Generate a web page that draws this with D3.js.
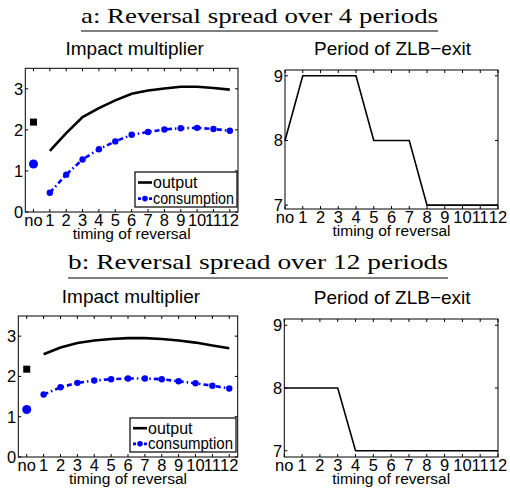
<!DOCTYPE html>
<html>
<head>
<meta charset="utf-8">
<script src="https://cdn.jsdelivr.net/npm/d3@7"></script>
<style>
  body { margin: 0; background: #fff; }
</style>
</head>
<body>
<div id="plot"></div>
<script>
// x categories: "no" reversal, then timing 1..12
var timing = [1, 2, 3, 4, 5, 6, 7, 8, 9, 10, 11, 12];
var xTickLabels = ["no", "1", "2", "3", "4", "5", "6", "7", "8", "9", "10", "11", "12"];

// panel a: reversal spread over 4 periods
var outputA = [1.49, 1.92, 2.31, 2.53, 2.72, 2.88, 2.96, 3.01, 3.05, 3.05, 3.02, 2.98];
var consA = [0.47, 0.91, 1.28, 1.53, 1.72, 1.88, 1.95, 2.01, 2.04, 2.05, 2.02, 1.98];
var noOutputA = 2.19;
var noConsA = 1.17;
var exitA = [8, 9, 9, 9, 9, 8, 8, 8, 7, 7, 7, 7, 7];

// panel b: reversal spread over 12 periods
var outputB = [2.55, 2.72, 2.83, 2.89, 2.93, 2.95, 2.95, 2.93, 2.89, 2.84, 2.77, 2.70];
var consB = [1.55, 1.73, 1.84, 1.90, 1.93, 1.95, 1.95, 1.93, 1.88, 1.83, 1.77, 1.70];
var noOutputB = 2.18;
var noConsB = 1.18;
var exitB = [8, 8, 8, 8, 7, 7, 7, 7, 7, 7, 7, 7, 7];

var width = 510, height = 489;
var sans = "'Liberation Sans', Arial, Helvetica, sans-serif";
var svg = d3.select("#plot").append("svg")
    .attr("width", width)
    .attr("height", height)
    .style("font-family", sans);

// section heading with underline
function heading(txt, x0, x1, y, lineY) {
    svg.append("text")
        .attr("x", x0).attr("y", y)
        .style("font-family", "'Liberation Serif', 'DejaVu Serif', serif")
        .style("font-size", "22px")
        .attr("textLength", x1 - x0)
        .attr("lengthAdjust", "spacingAndGlyphs")
        .text(txt);
    svg.append("line")
        .attr("x1", x0).attr("x2", x1)
        .attr("y1", lineY).attr("y2", lineY)
        .attr("stroke", "black").attr("stroke-width", 1);
}

// matlab-like box with inward ticks on all four sides
function box(g, x, y, xt, yt) {
    var x0 = x.range()[0], x1 = x.range()[1], y0 = y.range()[0], y1 = y.range()[1];
    g.append("rect")
        .attr("x", x0).attr("y", y1)
        .attr("width", x1 - x0).attr("height", y0 - y1)
        .attr("fill", "none").attr("stroke", "black").attr("stroke-width", 1);
    var tl = 3;
    xt.forEach(function(v, i) {
        var px = x(i);
        g.append("line").attr("x1", px).attr("x2", px).attr("y1", y0).attr("y2", y0 - tl).attr("stroke", "black");
        g.append("line").attr("x1", px).attr("x2", px).attr("y1", y1).attr("y2", y1 + tl).attr("stroke", "black");
        g.append("text")
            .attr("x", px).attr("y", y0 + 13.5)
            .attr("text-anchor", "middle")
            .style("font-size", "16.5px")
            .text(v);
    });
    yt.forEach(function(v) {
        var py = y(v);
        g.append("line").attr("x1", x0).attr("x2", x0 + tl).attr("y1", py).attr("y2", py).attr("stroke", "black");
        g.append("line").attr("x1", x1).attr("x2", x1 - tl).attr("y1", py).attr("y2", py).attr("stroke", "black");
        g.append("text")
            .attr("x", x0 - 2).attr("y", py + 6)
            .attr("text-anchor", "end")
            .style("font-size", "16.5px")
            .text(v);
    });
    g.append("text")
        .attr("x", (x0 + x1) / 2).attr("y", y0 + 27)
        .attr("text-anchor", "middle")
        .style("font-size", "15.5px")
        .text("timing of reversal");
}

function multiplierPanel(left, right, top, bottom, output, cons, noOut, noCons, leg) {
    var g = svg.append("g");
    var x = d3.scaleLinear().domain([-0.5, 12.5]).range([left, right]);
    var y = d3.scaleLinear().domain([0, 3.5]).range([bottom, top]);

    g.append("text")
        .attr("x", (left + right) / 2 + 3).attr("y", top - 13)
        .attr("text-anchor", "middle")
        .style("font-size", "19px")
        .text("Impact multiplier");

    box(g, x, y, xTickLabels, [0, 1, 2, 3]);

    var line = d3.line().x(function(d, i) { return x(timing[i]); }).y(function(d) { return y(d); });

    g.append("path").datum(output)
        .attr("d", line)
        .attr("fill", "none").attr("stroke", "black").attr("stroke-width", 2.6);

    g.append("path").datum(cons)
        .attr("d", line)
        .attr("fill", "none").attr("stroke", "#0000ff").attr("stroke-width", 2.6)
        .attr("stroke-dasharray", "5,3,1.5,3");

    g.selectAll(".cdot").data(cons).enter().append("circle")
        .attr("cx", function(d, i) { return x(timing[i]); })
        .attr("cy", function(d) { return y(d); })
        .attr("r", 3.2).attr("fill", "#0000ff");

    // no-reversal markers
    g.append("rect")
        .attr("x", x(0) - 3.5).attr("y", y(noOut) - 3.5)
        .attr("width", 7).attr("height", 7).attr("fill", "black");
    g.append("circle")
        .attr("cx", x(0)).attr("cy", y(noCons))
        .attr("r", 4.5).attr("fill", "#0000ff");

    // legend
    var lg = g.append("g");
    lg.append("rect")
        .attr("x", leg.x).attr("y", leg.y)
        .attr("width", leg.w).attr("height", leg.h)
        .attr("fill", "white").attr("stroke", "black").attr("stroke-width", 1.2);
    var r1 = leg.y + leg.h * 0.3, r2 = leg.y + leg.h * 0.76;
    lg.append("line").attr("x1", leg.x + 3).attr("x2", leg.x + 17).attr("y1", r1).attr("y2", r1)
        .attr("stroke", "black").attr("stroke-width", 2.6);
    lg.append("line").attr("x1", leg.x + 3).attr("x2", leg.x + 17).attr("y1", r2).attr("y2", r2)
        .attr("stroke", "#0000ff").attr("stroke-width", 2.6).attr("stroke-dasharray", "3,2.5");
    lg.append("circle").attr("cx", leg.x + 10).attr("cy", r2).attr("r", 2.8).attr("fill", "#0000ff");
    lg.append("text").attr("x", leg.x + 18).attr("y", r1 + 5.5).style("font-size", "16px").text("output");
    lg.append("text").attr("x", leg.x + 18).attr("y", r2 + 5.5).style("font-size", "16px")
        .attr("textLength", leg.w - 21).attr("lengthAdjust", "spacingAndGlyphs")
        .text("consumption");
}

function exitPanel(left, right, top, bottom, yDom, exit) {
    var g = svg.append("g");
    var x = d3.scaleLinear().domain([0, 12]).range([left, right]);
    var y = d3.scaleLinear().domain(yDom).range([bottom, top]);

    g.append("text")
        .attr("x", (left + right) / 2 + 1).attr("y", top - 15)
        .attr("text-anchor", "middle")
        .style("font-size", "19px")
        .text("Period of ZLB\u2212exit");

    box(g, x, y, xTickLabels, [7, 8, 9]);

    g.append("path").datum(exit)
        .attr("d", d3.line().x(function(d, i) { return x(i); }).y(function(d) { return y(d); }))
        .attr("fill", "none").attr("stroke", "black").attr("stroke-width", 1.6);
}

heading("a:  Reversal spread over 4 periods", 81, 438, 23, 31);
multiplierPanel(25.3, 238, 68.3, 212, outputA, consA, noOutputA, noConsA,
    { x: 135, y: 172, w: 102, h: 35 });
exitPanel(285, 498, 70, 209, [6.94, 9.09], exitA);

heading("b:  Reversal spread over 12 periods", 68, 448, 269, 278);
multiplierPanel(18.3, 237.7, 316, 457, outputB, consB, noOutputB, noConsB,
    { x: 130, y: 418, w: 106, h: 34 });
exitPanel(284.3, 498, 319, 457, [6.9, 9.1], exitB);
</script>
</body>
</html>
